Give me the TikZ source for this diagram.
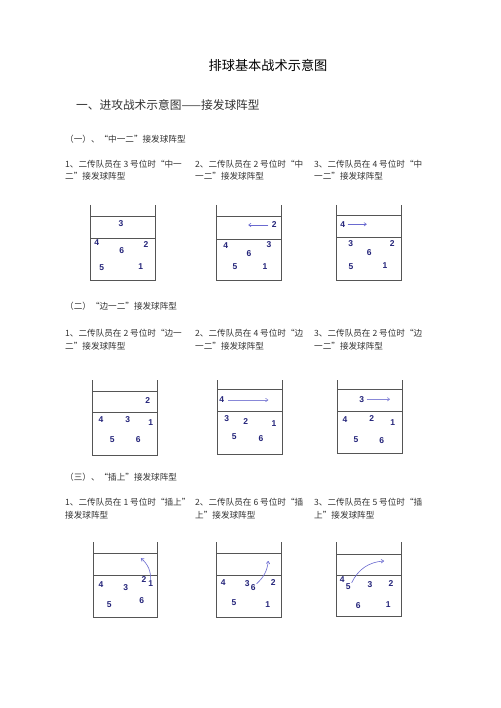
\documentclass[tikz,border=0pt]{standalone}
\usepackage{fontspec}
\setmainfont{Liberation Serif}
\newfontfamily\cjk{Noto Sans CJK SC}
\newfontfamily\hand{Liberation Sans}
\usetikzlibrary{arrows.meta}
\definecolor{navy}{HTML}{24247A}
\definecolor{arr}{HTML}{6A6AD0}
\definecolor{arrl}{HTML}{8888D8}
\definecolor{txt}{HTML}{333333}
\definecolor{courtc}{HTML}{555555}
\newcommand\courtbox[7]{%
  \draw[court] (#1,#3) -- (#1,#6) -- (#2,#6) -- (#2,#3);
  \draw[court] (#1,#4) -- (#2,#4);
  \draw[court] (#1,#5) -- (#2,#5);}
\begin{document}
\begin{tikzpicture}[x=1pt,y=-1pt,
  court/.style={draw=courtc,line width=0.9pt},
  pl/.style={font=\hand\bfseries\fontsize{8.5}{9}\selectfont,text=navy,inner sep=0.8pt},
  mv/.style={draw=arr,line width=0.6pt,-{To[length=3pt,width=4pt]}},
  mvl/.style={draw=arrl,line width=0.6pt,-{To[length=3pt,width=4pt]}},
  title/.style={font=\cjk\fontsize{13.2}{14}\selectfont,text=black,inner sep=0},
  head/.style={font=\cjk\fontsize{11.7}{13}\selectfont,text=txt,anchor=west,inner sep=0},
  sub/.style={font=\cjk\fontsize{8.6}{10}\selectfont,text=txt,anchor=west,inner sep=0},
  item/.style={font=\cjk\fontsize{8.6}{10}\selectfont,text=txt,anchor=west,inner sep=0}]
\useasboundingbox[fill=white] (0,0) rectangle (500,708);

\node[title] (t) at (268,65) {排球基本战术示意图};
\node[head] (h1) at (76,105) {一、进攻战术示意图——接发球阵型};

% ---------- section 1
\node[sub] (s1) at (65,139) {（一）、“中一二”接发球阵型};
\node[item] (i11a) at (65,164) {1、二传队员在 3 号位时“中一};
\node[item] (i11b) at (65,176.5) {二”接发球阵型};
\node[item] (i12a) at (195,164) {2、二传队员在 2 号位时“中};
\node[item] (i12b) at (195,176.5) {一二”接发球阵型};
\node[item] (i13a) at (314,164) {3、二传队员在 4 号位时“中};
\node[item] (i13b) at (314,176.5) {一二”接发球阵型};

\courtbox{90.7}{155.7}{205}{216}{238.3}{280.3}{}
\node[pl] (a3) at (121,223.3) {3};
\node[pl] (a4) at (96.7,242.7) {4};
\node[pl] (a6) at (121.7,251) {6};
\node[pl] (a2) at (146,244.3) {2};
\node[pl] (a5) at (101.7,267.3) {5};
\node[pl] (a1) at (140.7,266.7) {1};

\courtbox{216.7}{281.7}{205}{216.5}{239}{280.7}{}
\node[pl] (b2) at (274.3,225) {2};
\coordinate (b2e) at (248.3,225);
\draw[mv] (b2.west) ++(-2.5,0) -- (b2e);
\node[pl] (b4) at (225.7,245.7) {4};
\node[pl] (b6) at (249,254) {6};
\node[pl] (b3) at (269,245) {3};
\node[pl] (b5) at (235,266.7) {5};
\node[pl] (b1) at (265,266.7) {1};

\courtbox{336.3}{401.3}{205}{215.5}{237.5}{280.3}{}
\node[pl] (c4) at (342.7,224.3) {4};
\coordinate (c4e) at (366.7,224.3);
\draw[mv] (c4.east) ++(1.5,0) -- (c4e);
\node[pl] (c3) at (350.7,244) {3};
\node[pl] (c6) at (369.3,252.3) {6};
\node[pl] (c2) at (392.3,244) {2};
\node[pl] (c5) at (351,266.7) {5};
\node[pl] (c1) at (385,266) {1};

% ---------- section 2
\node[sub] (s2) at (65,306.7) {（二）“边一二”接发球阵型};
\node[item] (i21a) at (65,333.3) {1、二传队员在 2 号位时“边一};
\node[item] (i21b) at (65,346) {二”接发球阵型};
\node[item] (i22a) at (195,333.3) {2、二传队员在 4 号位时“边};
\node[item] (i22b) at (195,346) {一二”接发球阵型};
\node[item] (i23a) at (314,333.3) {3、二传队员在 2 号位时“边};
\node[item] (i23b) at (314,346) {一二”接发球阵型};

\courtbox{92.3}{157.3}{380}{391}{412.7}{455.3}{}
\node[pl] (d2) at (147.7,400.7) {2};
\node[pl] (d4) at (101,419.3) {4};
\node[pl] (d3) at (127.7,419.3) {3};
\node[pl] (d1) at (150.7,422.7) {1};
\node[pl] (d5) at (112.3,439.3) {5};
\node[pl] (d6) at (138.3,440) {6};

\courtbox{217.7}{282.7}{380}{389.3}{411}{454}{}
\node[pl] (e4) at (221.7,400) {4};
\coordinate (e4e) at (268.3,400);
\draw[mvl] (e4.east) ++(3,0) -- (e4e);
\node[pl] (e3) at (226.7,419) {3};
\node[pl] (e2) at (245.7,421.7) {2};
\node[pl] (e1) at (274,423.3) {1};
\node[pl] (e5) at (234.3,436.7) {5};
\node[pl] (e6) at (261,438.3) {6};

\courtbox{337}{402}{380}{389.3}{411}{453.3}{}
\node[pl] (f3) at (361.7,399.3) {3};
\coordinate (f3e) at (390,399.3);
\draw[mvl] (f3.east) ++(1.5,0) -- (f3e);
\node[pl] (f4) at (345,419.3) {4};
\node[pl] (f2) at (371.7,418.3) {2};
\node[pl] (f1) at (392.7,422.7) {1};
\node[pl] (f5) at (356,439.3) {5};
\node[pl] (f6) at (381.7,440.7) {6};

% ---------- section 3
\node[sub] (s3) at (65,477.3) {（三）、“插上”接发球阵型};
\node[item] (i31a) at (65,502.3) {1、二传队员在 1 号位时“插上”};
\node[item] (i31b) at (65,515.7) {接发球阵型};
\node[item] (i32a) at (195,502.3) {2、二传队员在 6 号位时“插};
\node[item] (i32b) at (195,515.7) {上”接发球阵型};
\node[item] (i33a) at (314,502.3) {3、二传队员在 5 号位时“插};
\node[item] (i33b) at (314,515.7) {上”接发球阵型};

\courtbox{93.3}{157.7}{542}{553.3}{575}{617.7}{}
\node[pl] (g4) at (101,584.3) {4};
\node[pl] (g3) at (125.7,587.3) {3};
\node[pl] (g2) at (144,579.3) {2};
\node[pl] (g1) at (150.7,584) {1};
\node[pl] (g5) at (109.3,605) {5};
\node[pl] (g6) at (141.7,601) {6};
\coordinate (g1e) at (141,558.3);
\draw[mv] (g1.north) to[bend right=25] (g1e);

\courtbox{216}{281}{542}{553.3}{575.7}{617.7}{}
\node[pl] (k4) at (223.3,582.3) {4};
\node[pl] (k3) at (247.3,583.3) {3};
\node[pl] (k6) at (253.3,587.7) {6};
\node[pl] (k2) at (273.3,582.7) {2};
\node[pl] (k5) at (234,602.7) {5};
\node[pl] (k1) at (267.7,604.3) {1};
\coordinate (k6e) at (268.3,561);
\draw[mv] (k6.north east) to[bend right=20] (k6e);

\courtbox{336.3}{401.7}{542}{554}{575.7}{616.7}{}
\node[pl] (m4) at (342.3,579.3) {4};
\node[pl] (m5) at (348.3,586.7) {5};
\node[pl] (m3) at (370,585) {3};
\node[pl] (m2) at (391,583.3) {2};
\node[pl] (m6) at (358.3,605.7) {6};
\node[pl] (m1) at (388.3,605) {1};
\coordinate (m5e) at (384,561);
\draw[mv] (m5.north east) to[bend left=30] (m5e);
\end{tikzpicture}
\end{document}
